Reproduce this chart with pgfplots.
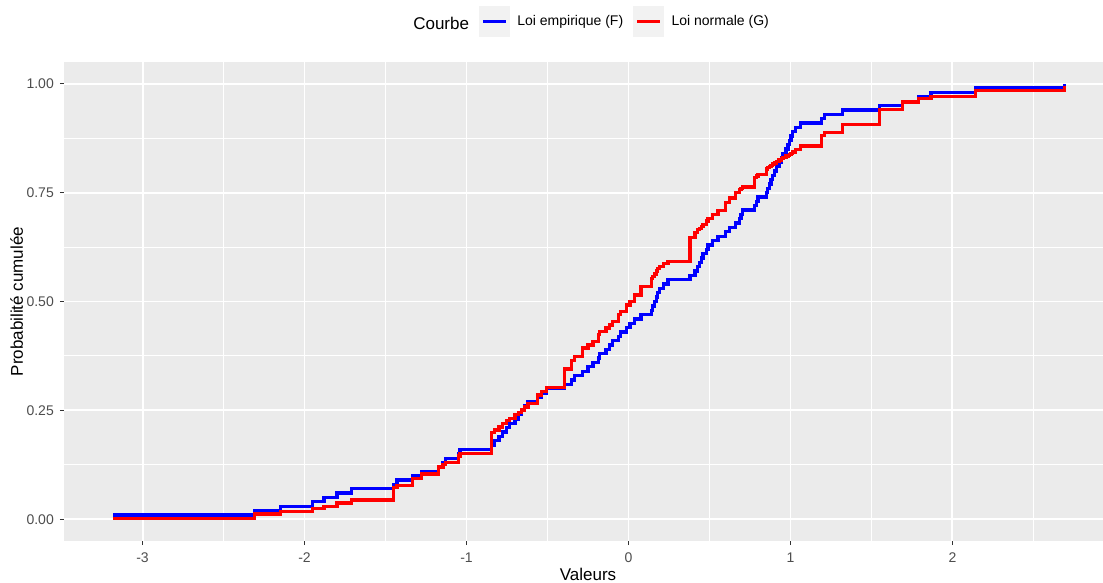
\documentclass[border=0pt]{standalone}
\usepackage{fontspec}
\setmainfont{Liberation Sans}
\usepackage{pgfplots}
\usepackage{pgfplotstable}
\pgfplotsset{compat=1.18}

\definecolor{panel}{HTML}{EBEBEB}
\definecolor{ticktext}{HTML}{4D4D4D}
\definecolor{tickmark}{HTML}{333333}
\definecolor{keybg}{HTML}{F2F2F2}

% Sorted sample: x, empirical CDF F(x), fitted normal CDF G(x)
\pgfplotstableread{
x F G
-3.18 0.01 0.001
-2.31 0.02 0.012
-2.15 0.03 0.017
-1.95 0.04 0.025
-1.88 0.05 0.030
-1.80 0.06 0.037
-1.71 0.07 0.044
-1.45 0.08 0.073
-1.43 0.09 0.077
-1.335 0.10 0.093
-1.28 0.11 0.104
-1.175 0.12 0.120
-1.145 0.13 0.125
-1.13 0.14 0.130
-1.05 0.15 0.145
-1.04 0.16 0.151
-0.845 0.17 0.199
-0.827 0.18 0.205
-0.80 0.19 0.212
-0.776 0.20 0.220
-0.755 0.21 0.226
-0.735 0.22 0.232
-0.70 0.23 0.240
-0.68 0.24 0.245
-0.662 0.25 0.251
-0.64 0.26 0.258
-0.62 0.27 0.266
-0.56 0.28 0.285
-0.535 0.29 0.294
-0.508 0.30 0.302
-0.395 0.31 0.345
-0.35 0.32 0.365
-0.333 0.33 0.373
-0.282 0.34 0.393
-0.25 0.35 0.400
-0.22 0.36 0.408
-0.185 0.37 0.425
-0.179 0.38 0.431
-0.138 0.39 0.439
-0.117 0.40 0.446
-0.097 0.41 0.454
-0.06 0.42 0.470
-0.05 0.43 0.477
-0.014 0.44 0.492
0.01 0.45 0.500
0.037 0.46 0.515
0.078 0.47 0.534
0.14 0.48 0.553
0.148 0.49 0.557
0.16 0.50 0.563
0.171 0.51 0.570
0.18 0.52 0.575
0.191 0.53 0.580
0.215 0.54 0.587
0.243 0.55 0.592
0.38 0.56 0.647
0.41 0.57 0.658
0.428 0.58 0.665
0.438 0.59 0.668
0.45 0.60 0.673
0.46 0.61 0.677
0.48 0.62 0.685
0.49 0.63 0.690
0.52 0.64 0.699
0.552 0.65 0.709
0.60 0.66 0.728
0.623 0.67 0.738
0.66 0.68 0.750
0.685 0.69 0.757
0.695 0.70 0.760
0.706 0.71 0.763
0.778 0.72 0.784
0.79 0.73 0.788
0.80 0.74 0.792
0.85 0.75 0.804
0.86 0.76 0.807
0.87 0.77 0.810
0.88 0.78 0.813
0.891 0.79 0.816
0.90 0.80 0.818
0.912 0.81 0.821
0.93 0.82 0.825
0.943 0.83 0.828
0.953 0.84 0.830
0.973 0.85 0.834
0.985 0.86 0.836
0.994 0.87 0.838
1.003 0.88 0.840
1.014 0.89 0.843
1.03 0.90 0.849
1.06 0.91 0.857
1.19 0.92 0.882
1.21 0.93 0.888
1.323 0.94 0.907
1.549 0.95 0.941
1.693 0.96 0.958
1.79 0.97 0.966
1.868 0.98 0.971
2.142 0.99 0.985
2.69 1.00 0.995
}\cdf

\begin{document}
\begin{tikzpicture}
\path[use as bounding box] (-64bp,-42bp) rectangle (1039bp,541bp);
\begin{axis}[
  scale only axis,
  width=1048bp, height=479bp,
  xmin=-3.485, xmax=2.985,
  ymin=-0.05, ymax=1.05,
  clip mode=individual,
  axis background/.style={fill=panel},
  axis line style={draw=none},
  xtick={-3,-2,-1,0,1,2},
  xticklabels={-3,-2,-1,0,1,2},
  ytick={0,0.25,0.5,0.75,1},
  yticklabels={0.00,0.25,0.50,0.75,1.00},
  minor xtick={-2.5,-1.5,-0.5,0.5,1.5,2.5},
  minor ytick={0.125,0.375,0.625,0.875},
  grid=both,
  major grid style={white, line width=1.9bp},
  minor grid style={white, line width=0.95bp},
  tick align=outside,
  major tick length=4bp,
  minor tick length=0pt,
  major tick style={tickmark, line width=1.1bp},
  xtick pos=bottom, ytick pos=left,
  tick label style={font=\fontsize{14bp}{16bp}\selectfont, text=ticktext, inner sep=0pt},
  xticklabel style={anchor=north},
  yticklabel style={anchor=east},
  xticklabel shift=8bp,
  yticklabel shift=6bp,
  xlabel={Valeurs},
  ylabel={Probabilité cumulée},
  label style={font=\fontsize{17bp}{20bp}\selectfont, text=black, inner sep=0pt},
  xlabel style={at={(axis description cs:0.5,-0.0829)}, anchor=base},
  ylabel style={at={(axis description cs:-0.0451,0.5)}, anchor=center},
  legend columns=-1,
  legend image code/.code={
    \fill[keybg] (0bp,-13.8bp) rectangle (27.6bp,13.8bp);
    \draw[#1] (2.5bp,0bp) -- (25bp,0bp);
  },
  legend style={
    at={(0.3960,1.0852)}, anchor=west,
    draw=none, fill=none, inner sep=0pt, outer sep=0pt,
    font=\fontsize{14bp}{16bp}\selectfont,
    nodes={inner sep=0pt},
    /tikz/every odd column/.append style={column sep=7.5bp},
    /tikz/every even column/.append style={column sep=10bp},
  },
]
\addplot[const plot, blue, line width=3.3bp] table[x=x, y=F] {\cdf};
\addlegendentry{Loi empirique (F)}
\addplot[const plot, red, line width=3.3bp] table[x=x, y=G] {\cdf};
\addlegendentry{Loi normale (G)}
\node[anchor=base east, inner sep=0pt, font=\fontsize{17bp}{20bp}\selectfont]
  at (axis description cs:0.3867,1.0668) {Courbe};
\end{axis}
\end{tikzpicture}
\end{document}
